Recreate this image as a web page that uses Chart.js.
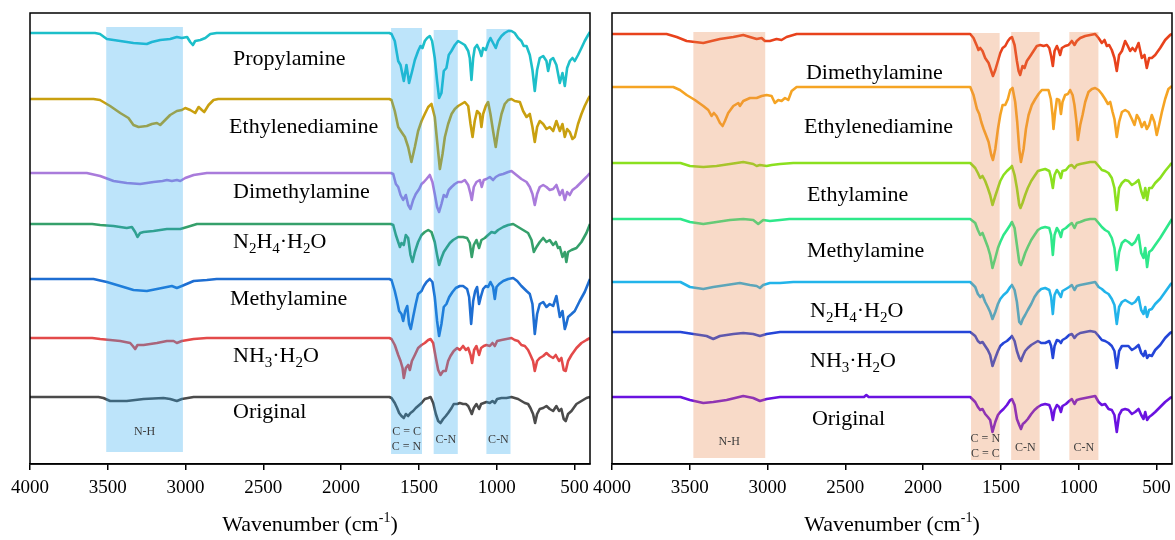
<!DOCTYPE html>
<html>
<head>
<meta charset="utf-8">
<title>FTIR spectra</title>
<script src="https://cdn.jsdelivr.net/npm/chart.js@4.4.1/dist/chart.umd.min.js"></script>
<style>
  body { margin: 0; background: #fff; }
  #wrap { position: relative; width: 1175px; height: 540px; }
  canvas { position: absolute; top: 0; }
  #ftirA { left: 0; }
  #ftirB { left: 582px; }
</style>
</head>
<body>
<div id="wrap">
  <canvas id="ftirA" width="600" height="540"></canvas>
  <canvas id="ftirB" width="593" height="540"></canvas>
</div>
<script>
// 1. SPECTRA: [wavenumber cm-1, change from the trace baseline]
// panel A
const propylamineA = [[4000,0],[3582,0],[3550,-1],[3506,-6],[3420,-8],[3335,-10],[3249,-11],[3217,-9],[3163,-7],[3099,-6],[3056,-4],[3024,-5],[2990,-4],[2970,-9],[2953,-12],[2938,-8],[2905,-7],[2873,-5],[2841,-1],[2800,0],
  [1690,0],[1676,-1],[1655,-8],[1633,-28],[1618,-32],[1597,-48],[1580,-32],[1563,-50],[1543,-38],[1526,-27],[1505,-18],[1490,-13],[1477,-15],[1462,-8],[1447,-5],[1430,-3],[1415,-8],[1398,-25],[1383,-48],[1370,-65],[1355,-60],[1340,-38],[1323,-35],[1308,-22],[1291,-18],[1269,-12],[1248,-8],[1226,-10],[1205,-12],[1183,-18],[1173,-25],[1162,-47],[1151,-25],[1141,-15],[1126,-12],[1108,-18],[1098,-23],[1087,-15],[1070,-17],[1055,-10],[1040,-5],[1023,-10],[1006,-15],[991,-8],[969,-3],[948,0],[926,2],[905,2],[884,0],[862,-5],[841,-8],[826,-13],[808,-13],[787,-22],[770,-37],[755,-58],[740,-37],[723,-25],[701,-23],[680,-28],[669,-38],[654,-27],[637,-25],[616,-32],[594,-50],[577,-40],[562,-53],[547,-35],[530,-28],[513,-25],[498,-28],[477,-22],[455,-15],[434,-8],[412,-2],[400,1]];
const ethylenediamineA = [[4000,0],[3592,0],[3550,-1],[3485,-7],[3420,-14],[3367,-19],[3335,-26],[3302,-28],[3249,-27],[3217,-25],[3184,-24],[3163,-26],[3131,-21],[3099,-16],[3056,-12],[3024,-11],[3002,-9],[2970,-11],[2938,-14],[2916,-8],[2895,-11],[2880,-13],[2852,-6],[2820,-1],[2790,0],
  [1690,0],[1676,-1],[1655,-12],[1633,-28],[1612,-33],[1590,-38],[1569,-48],[1548,-63],[1526,-48],[1505,-32],[1483,-22],[1462,-15],[1440,-8],[1419,-5],[1398,-18],[1383,-42],[1365,-70],[1348,-55],[1333,-38],[1312,-25],[1290,-15],[1269,-10],[1248,-7],[1226,-5],[1205,-3],[1183,-7],[1168,-25],[1155,-38],[1141,-22],[1126,-12],[1108,-15],[1098,-28],[1087,-15],[1070,-7],[1055,-3],[1040,-15],[1023,-32],[1006,-48],[991,-32],[969,-15],[948,-5],[926,-1],[905,0],[884,-2],[851,-3],[830,-12],[808,-18],[787,-15],[770,-28],[755,-43],[740,-28],[723,-22],[701,-25],[680,-30],[659,-28],[637,-32],[616,-22],[594,-32],[577,-25],[562,-38],[547,-30],[530,-33],[513,-40],[498,-38],[477,-25],[455,-15],[434,-7],[412,0],[400,3]];
const dimethylamineA = [[4000,0],[3635,0],[3549,-3],[3463,-8],[3378,-10],[3292,-11],[3206,-9],[3148,-8],[3120,-7],[3088,-8],[3056,-7],[3034,-8],[3002,-5],[2948,-2],[2863,0],
  [1680,0],[1665,-1],[1648,-11],[1633,-14],[1618,-22],[1601,-27],[1584,-22],[1569,-32],[1554,-36],[1537,-27],[1520,-21],[1498,-16],[1483,-11],[1468,-9],[1451,-6],[1430,-2],[1413,-9],[1398,-21],[1383,-34],[1370,-39],[1355,-31],[1340,-22],[1323,-24],[1308,-17],[1290,-14],[1269,-11],[1248,-9],[1226,-9],[1205,-7],[1183,-12],[1168,-21],[1160,-27],[1147,-14],[1130,-9],[1108,-7],[1096,-14],[1083,-7],[1066,-6],[1044,-4],[1023,-7],[1006,-4],[984,-2],[958,-1],[926,1],[905,2],[873,-2],[841,-6],[808,-9],[787,-14],[770,-21],[755,-32],[740,-21],[723,-14],[701,-12],[680,-14],[659,-17],[637,-16],[616,-12],[594,-22],[577,-17],[562,-27],[547,-19],[530,-22],[513,-17],[487,-14],[455,-9],[423,-4],[400,0]];
const hydrazineA = [[4000,0],[3600,0],[3549,-1],[3463,-2],[3378,-4],[3345,-3],[3324,-8],[3309,-13],[3292,-9],[3270,-8],[3206,-7],[3163,-6],[3120,-5],[3077,-5],[3034,-5],[2990,-3],[2927,0],
  [1680,0],[1665,-1],[1648,-11],[1633,-18],[1622,-23],[1612,-19],[1597,-21],[1584,-11],[1569,-14],[1554,-31],[1541,-38],[1526,-28],[1505,-18],[1483,-11],[1462,-8],[1440,-6],[1419,-8],[1398,-18],[1383,-31],[1370,-41],[1355,-34],[1340,-28],[1323,-24],[1301,-19],[1280,-16],[1248,-13],[1216,-13],[1190,-14],[1173,-19],[1160,-33],[1147,-21],[1130,-16],[1113,-24],[1098,-16],[1076,-14],[1055,-11],[1033,-8],[1012,-9],[991,-6],[958,-3],[926,-1],[894,0],[862,-3],[830,-6],[798,-9],[776,-16],[761,-28],[744,-23],[723,-18],[701,-14],[680,-18],[659,-16],[637,-21],[620,-18],[605,-24],[594,-23],[577,-33],[562,-28],[552,-38],[541,-28],[519,-26],[487,-24],[455,-18],[423,-9],[400,0]];
const methylamineA = [[4000,0],[3592,0],[3506,-3],[3420,-7],[3335,-11],[3249,-12],[3184,-10],[3120,-8],[3088,-7],[3056,-9],[3024,-7],[2948,-2],[2863,-1],[2800,0],
  [1690,0],[1676,-1],[1655,-12],[1640,-22],[1627,-32],[1612,-35],[1601,-42],[1588,-32],[1575,-27],[1563,-45],[1552,-50],[1537,-38],[1520,-25],[1505,-15],[1483,-12],[1468,-7],[1451,-3],[1430,0],[1413,-3],[1398,-18],[1383,-42],[1370,-57],[1355,-45],[1340,-28],[1323,-25],[1305,-18],[1284,-13],[1263,-9],[1237,-7],[1216,-7],[1190,-10],[1177,-18],[1164,-45],[1151,-22],[1138,-12],[1126,-8],[1113,-25],[1102,-18],[1087,-10],[1070,-7],[1055,-8],[1040,-3],[1023,-8],[1012,-20],[1001,-8],[984,-5],[958,-2],[926,0],[894,1],[868,-2],[841,-7],[808,-12],[787,-15],[770,-25],[755,-55],[740,-35],[723,-25],[701,-23],[680,-28],[659,-25],[637,-27],[616,-17],[594,-38],[577,-32],[562,-50],[552,-45],[541,-38],[519,-35],[498,-32],[466,-22],[434,-13],[400,0]];
const ammoniaA = [[4000,0],[3600,0],[3549,-1],[3420,-3],[3356,-5],[3339,-8],[3324,-11],[3309,-7],[3270,-7],[3184,-5],[3120,-3],[3077,-3],[3056,-5],[3024,-3],[2948,-1],[2863,0],
  [1690,0],[1676,-1],[1655,-7],[1633,-17],[1618,-23],[1605,-30],[1597,-40],[1584,-30],[1569,-27],[1558,-32],[1545,-23],[1526,-17],[1505,-10],[1483,-7],[1462,-5],[1440,-2],[1425,-1],[1408,-5],[1391,-20],[1376,-32],[1361,-37],[1344,-33],[1327,-33],[1312,-23],[1297,-18],[1276,-13],[1254,-10],[1237,-12],[1216,-8],[1198,-12],[1183,-10],[1168,-17],[1158,-25],[1145,-12],[1130,-8],[1113,-17],[1100,-10],[1083,-8],[1066,-7],[1044,-8],[1027,-5],[1012,-8],[997,-3],[969,-2],[937,-1],[905,0],[884,-2],[862,-3],[841,-7],[819,-8],[798,-12],[783,-17],[766,-23],[755,-33],[740,-23],[723,-20],[701,-18],[680,-15],[659,-18],[637,-20],[620,-17],[599,-23],[584,-20],[569,-32],[556,-33],[541,-23],[519,-17],[487,-10],[455,-5],[423,-2],[400,0]];
const originalA = [[4000,0],[3560,0],[3528,-1],[3485,-4],[3378,-4],[3270,-2],[3142,-1],[3099,-2],[3056,-4],[3024,-2],[2948,0],
  [1690,0],[1676,-1],[1655,-6],[1640,-11],[1627,-16],[1612,-19],[1597,-21],[1584,-17],[1569,-19],[1554,-16],[1537,-14],[1520,-11],[1505,-9],[1483,-6],[1462,-2],[1440,-1],[1425,0],[1408,-6],[1391,-17],[1376,-24],[1361,-26],[1344,-22],[1327,-19],[1312,-16],[1290,-11],[1276,-7],[1254,-7],[1237,-6],[1216,-7],[1198,-7],[1183,-9],[1168,-14],[1160,-17],[1147,-11],[1130,-7],[1113,-12],[1100,-7],[1083,-6],[1066,-5],[1044,-6],[1027,-4],[1012,-6],[997,-2],[969,-1],[937,-1],[905,0],[884,-1],[862,-2],[841,-4],[819,-6],[798,-7],[783,-11],[766,-17],[753,-26],[740,-17],[723,-12],[701,-11],[680,-9],[659,-12],[637,-14],[616,-9],[599,-14],[584,-12],[569,-22],[556,-24],[541,-17],[519,-14],[487,-7],[455,-4],[423,-1],[400,0]];

// panel B
const dimethylamineB = [[4000,0],[3649,0],[3584,-3],[3520,-7],[3467,-8],[3413,-9],[3360,-7],[3306,-5],[3220,-3],[3156,-1],[3114,-3],[3070,-5],[3038,-4],[3017,-7],[2985,-7],[2942,-5],[2910,-6],[2878,-3],[2813,0],
  [1697,0],[1676,-4],[1654,-12],[1644,-16],[1633,-14],[1618,-17],[1601,-24],[1579,-29],[1562,-37],[1551,-42],[1536,-36],[1519,-27],[1504,-19],[1489,-14],[1472,-12],[1455,-7],[1440,-4],[1429,-3],[1412,-11],[1397,-27],[1386,-37],[1376,-41],[1361,-32],[1348,-34],[1333,-27],[1311,-22],[1290,-17],[1269,-12],[1247,-11],[1226,-12],[1204,-11],[1189,-14],[1177,-22],[1166,-32],[1155,-17],[1140,-12],[1129,-16],[1119,-21],[1108,-14],[1087,-12],[1065,-11],[1044,-7],[1027,-11],[1012,-7],[990,-4],[958,-2],[926,-1],[894,0],[872,-4],[851,-9],[834,-6],[819,-12],[804,-11],[787,-16],[770,-24],[755,-37],[740,-21],[722,-17],[701,-7],[684,-12],[669,-17],[654,-14],[637,-17],[615,-9],[594,-24],[577,-21],[562,-34],[547,-24],[530,-24],[508,-21],[476,-14],[444,-6],[412,-1],[400,0]];
const ethylenediamineB = [[4000,0],[3606,0],[3563,-3],[3520,-8],[3467,-13],[3413,-19],[3381,-23],[3360,-29],[3345,-26],[3328,-29],[3306,-36],[3289,-39],[3274,-34],[3253,-26],[3220,-19],[3188,-16],[3178,-19],[3156,-14],[3113,-11],[3070,-11],[3038,-9],[3006,-8],[2974,-9],[2953,-16],[2931,-13],[2910,-14],[2888,-11],[2867,-13],[2845,-4],[2813,0],
  [1697,0],[1676,-8],[1654,-22],[1639,-27],[1626,-35],[1611,-42],[1596,-48],[1579,-55],[1562,-68],[1551,-73],[1536,-62],[1519,-42],[1504,-28],[1489,-18],[1472,-18],[1455,-12],[1440,-3],[1425,-1],[1408,-15],[1395,-35],[1382,-62],[1371,-75],[1354,-62],[1339,-42],[1322,-28],[1301,-18],[1279,-12],[1258,-7],[1237,-3],[1215,-3],[1194,-3],[1179,-12],[1168,-28],[1162,-42],[1151,-25],[1140,-12],[1125,-13],[1114,-27],[1104,-15],[1087,-8],[1069,-7],[1055,-3],[1039,-8],[1027,-18],[1014,-35],[1005,-53],[990,-38],[975,-28],[958,-15],[937,-5],[915,-2],[894,-1],[872,-3],[851,-7],[830,-12],[812,-17],[797,-15],[782,-25],[770,-32],[755,-50],[740,-35],[722,-25],[701,-23],[680,-25],[658,-32],[641,-38],[626,-28],[611,-32],[594,-40],[577,-35],[562,-42],[547,-38],[530,-28],[513,-35],[498,-48],[483,-38],[465,-25],[444,-12],[423,-2],[400,1]];
const ethylamineB = [[4000,0],[3560,0],[3499,-3],[3413,-4],[3328,-3],[3242,-1],[3156,1],[3092,-1],[3070,-3],[3049,-2],[3006,-3],[2974,-2],[2920,-1],[2835,0],
  [1697,0],[1665,-5],[1648,-10],[1633,-15],[1618,-13],[1601,-18],[1584,-25],[1569,-32],[1554,-42],[1536,-33],[1519,-25],[1504,-18],[1483,-12],[1461,-8],[1440,-5],[1429,-3],[1412,-12],[1397,-25],[1382,-42],[1374,-45],[1361,-40],[1344,-32],[1327,-25],[1305,-18],[1284,-13],[1262,-8],[1241,-7],[1215,-6],[1189,-8],[1177,-15],[1166,-25],[1155,-12],[1140,-7],[1125,-10],[1114,-15],[1104,-8],[1082,-7],[1061,-3],[1044,-2],[1027,-5],[1012,-2],[990,-1],[958,0],[926,1],[894,1],[872,-3],[851,-7],[830,-8],[808,-10],[787,-15],[770,-25],[755,-47],[740,-25],[722,-20],[701,-17],[680,-18],[658,-22],[637,-20],[615,-17],[598,-28],[583,-35],[572,-25],[560,-37],[547,-25],[530,-25],[508,-20],[476,-15],[444,-8],[412,-2],[400,0]];
const methylamineB = [[4000,0],[3560,0],[3499,-3],[3413,-5],[3328,-3],[3242,-1],[3156,0],[3092,-1],[3060,-5],[3028,-1],[2985,-2],[2920,-1],[2860,0],
  [1697,0],[1665,-4],[1648,-11],[1633,-16],[1618,-14],[1601,-21],[1584,-28],[1569,-36],[1554,-49],[1536,-39],[1519,-29],[1504,-23],[1483,-16],[1461,-11],[1440,-6],[1429,-3],[1412,-9],[1397,-26],[1382,-43],[1371,-46],[1359,-41],[1344,-34],[1327,-28],[1305,-21],[1284,-16],[1262,-11],[1241,-9],[1215,-8],[1189,-9],[1177,-16],[1166,-36],[1155,-16],[1140,-9],[1125,-13],[1114,-18],[1104,-11],[1082,-9],[1061,-6],[1044,-4],[1027,-9],[1012,-4],[990,-3],[958,-1],[926,0],[894,0],[872,-4],[851,-8],[830,-11],[808,-13],[787,-19],[770,-29],[755,-51],[740,-33],[722,-24],[701,-21],[680,-23],[658,-26],[637,-23],[615,-16],[598,-34],[583,-39],[572,-29],[560,-48],[547,-33],[530,-31],[508,-26],[476,-19],[444,-11],[412,-3],[400,0]];
const hydrazineB = [[4000,0],[3560,0],[3499,-5],[3413,-7],[3349,-5],[3263,-3],[3178,-1],[3113,-3],[3070,-4],[3049,-6],[3028,-3],[2985,-1],[2920,-1],[2835,0],
  [1697,0],[1665,-5],[1648,-12],[1633,-15],[1618,-13],[1601,-20],[1584,-25],[1569,-30],[1554,-37],[1536,-30],[1519,-22],[1504,-17],[1483,-13],[1461,-10],[1440,-5],[1429,-3],[1412,-8],[1397,-20],[1382,-40],[1371,-42],[1359,-37],[1344,-33],[1327,-28],[1305,-22],[1284,-15],[1262,-10],[1241,-7],[1215,-6],[1189,-8],[1177,-15],[1166,-32],[1155,-13],[1140,-8],[1125,-12],[1114,-15],[1104,-9],[1082,-7],[1061,-5],[1044,-3],[1027,-8],[1012,-4],[990,-3],[958,-2],[926,-1],[894,0],[872,-5],[851,-7],[830,-10],[808,-12],[787,-17],[770,-23],[755,-42],[740,-25],[722,-20],[701,-18],[680,-20],[658,-22],[637,-20],[615,-15],[598,-28],[583,-32],[572,-25],[560,-35],[547,-28],[530,-27],[508,-22],[476,-17],[444,-10],[412,-3],[400,-1]];
const ammoniaB = [[4000,0],[3560,0],[3477,-2],[3392,-4],[3349,-7],[3306,-4],[3220,-2],[3156,-1],[3092,-2],[3049,-4],[3006,-2],[2920,0],
  [1697,0],[1665,-4],[1648,-9],[1633,-11],[1618,-10],[1601,-14],[1584,-18],[1569,-23],[1554,-34],[1536,-26],[1519,-19],[1504,-14],[1483,-11],[1461,-9],[1440,-6],[1429,-4],[1412,-9],[1397,-19],[1382,-26],[1371,-29],[1359,-24],[1344,-19],[1327,-16],[1305,-13],[1284,-11],[1262,-9],[1241,-11],[1215,-11],[1189,-9],[1177,-14],[1166,-26],[1155,-14],[1140,-8],[1125,-9],[1114,-11],[1104,-8],[1082,-6],[1061,-3],[1044,-2],[1027,-6],[1012,-3],[990,-1],[958,0],[926,1],[894,0],[872,-4],[851,-8],[830,-9],[808,-11],[787,-14],[770,-19],[755,-36],[740,-19],[722,-14],[701,-14],[680,-14],[658,-18],[637,-16],[615,-13],[598,-21],[583,-24],[572,-19],[560,-26],[547,-23],[530,-24],[508,-18],[476,-13],[444,-6],[412,-1],[400,0]];
const originalB = [[4000,0],[3560,0],[3499,-3],[3413,-6],[3349,-5],[3263,-3],[3156,1],[3092,-1],[3049,-4],[3006,-2],[2920,0],[2380,0],[2365,2],[2350,0],
  [1697,0],[1665,-5],[1648,-10],[1633,-13],[1618,-12],[1601,-17],[1584,-20],[1569,-23],[1554,-35],[1536,-25],[1519,-18],[1504,-15],[1483,-12],[1461,-8],[1440,-3],[1429,-2],[1412,-8],[1397,-22],[1382,-28],[1371,-32],[1359,-27],[1344,-25],[1327,-22],[1305,-17],[1284,-13],[1262,-10],[1241,-8],[1215,-7],[1189,-8],[1177,-13],[1166,-23],[1155,-13],[1140,-8],[1125,-10],[1114,-15],[1104,-9],[1082,-7],[1061,-4],[1044,-2],[1027,-7],[1012,-3],[990,-2],[958,-1],[926,0],[894,1],[872,-5],[851,-8],[830,-7],[808,-12],[787,-13],[770,-18],[755,-35],[740,-18],[722,-13],[701,-12],[680,-13],[658,-17],[637,-15],[615,-12],[598,-18],[583,-22],[572,-15],[560,-23],[547,-20],[530,-18],[508,-15],[476,-10],[444,-5],[412,-1],[400,0]];

// 2. SERIES SETUP
const wavenumberTicks = [4000, 3500, 3000, 2500, 2000, 1500, 1000, 500];

const namesA = ['Propylamine', 'Ethylenediamine', 'Dimethylamine', 'N2H4·H2O', 'Methylamine', 'NH3·H2O', 'Original'];
const spectraA = [propylamineA, ethylenediamineA, dimethylamineA, hydrazineA, methylamineA, ammoniaA, originalA];
const offsetsA = [431, 365, 291, 240, 185, 126, 67];

const namesB = ['Dimethylamine', 'Ethylenediamine', 'Ethylamine', 'Methylamine', 'N2H4·H2O', 'NH3·H2O', 'Original'];
const spectraB = [dimethylamineB, ethylenediamineB, ethylamineB, methylamineB, hydrazineB, ammoniaB, originalB];
const offsetsB = [430, 377, 301, 245, 182, 132, 67];

const colorsA = ['#1dbfc9', '#c9a00f', '#a97bdb', '#35a06b', '#1e6ed2', '#e34a4a', '#4b4b4b'];
const colorsB = ['#e8421c', '#f5a424', '#8be01f', '#2ee88a', '#22b4ea', '#2445d8', '#6a12e0'];

// where the sample names sit (wavenumber of left edge, baseline value)
const labelXA = [2695, 2720, 2695, 2695, 2715, 2695, 2695];
const labelYA = [399, 331, 266, 216, 159, 102, 46];
const labelXB = [2753, 2766, 2747, 2747, 2727, 2727, 2715];
const labelYB = [385, 331, 263, 207, 147, 97, 39];

// highlighted absorption regions
const bandsA = [
  { from: 3510, to: 3017, top: 437, bottom: 12, text: ['N-H'], textY: [32] },
  { from: 1679, to: 1480, top: 436, bottom: 10, text: ['C = C', 'C = N'], textY: [32, 17] },
  { from: 1405, to: 1250, top: 434, bottom: 10, text: ['C-N'], textY: [24] },
  { from: 1066, to: 911, top: 435, bottom: 10, text: ['C-N'], textY: [24] }
];
const bandsB = [
  { from: 3477, to: 3015, top: 432, bottom: 6, text: ['N-H'], textY: [22] },
  { from: 1692, to: 1508, top: 431, bottom: 4, text: ['C = N', 'C = C'], textY: [25, 10] },
  { from: 1434, to: 1251, top: 432, bottom: 4, text: ['C-N'], textY: [16] },
  { from: 1060, to: 873, top: 432, bottom: 4, text: ['C-N'], textY: [16] }
];

const SERIF = '"Liberation Serif", "Times New Roman", serif';

// 3. TEXT HELPERS
// digits in the sample names are chemical subscripts
function drawFormula(ctx, text, x, y, size) {
  let cx = x;
  for (const ch of text) {
    const sub = ch >= '0' && ch <= '9';
    ctx.font = (sub ? Math.round(size * 0.68) : size) + 'px ' + SERIF;
    ctx.fillText(ch, cx, sub ? y + size * 0.24 : y);
    cx += ctx.measureText(ch).width;
  }
}

function drawAxisTitle(ctx, cx, y) {
  const big = '22px ' + SERIF, small = '14px ' + SERIF;
  const parts = [['Wavenumber (cm', big, 0], ['-1', small, -9], [')', big, 0]];
  let w = 0;
  parts.forEach(p => { ctx.font = p[1]; w += ctx.measureText(p[0]).width; });
  let x = cx - w / 2;
  parts.forEach(p => {
    ctx.font = p[1];
    ctx.fillText(p[0], x, y + p[2]);
    x += ctx.measureText(p[0]).width;
  });
}

// 4. DECORATION PLUGIN (bands, names, frame, axis title)
const panelDecor = {
  id: 'panelDecor',
  afterDatasetsDraw(chart, args, opts) {
    const ctx = chart.ctx;
    const a = chart.chartArea;
    const xs = chart.scales.x, ys = chart.scales.y;
    ctx.save();

    opts.bands.forEach(b => {
      const x1 = xs.getPixelForValue(b.from), x2 = xs.getPixelForValue(b.to);
      const y1 = ys.getPixelForValue(b.top), y2 = ys.getPixelForValue(b.bottom);
      ctx.fillStyle = opts.bandColor;
      ctx.fillRect(x1, y1, x2 - x1, y2 - y1);
      ctx.fillStyle = '#3c3c3c';
      ctx.font = '12px ' + SERIF;
      ctx.textAlign = 'center';
      ctx.textBaseline = 'middle';
      b.text.forEach((t, k) => ctx.fillText(t, (x1 + x2) / 2, ys.getPixelForValue(b.textY[k])));
    });

    ctx.fillStyle = '#000';
    ctx.textAlign = 'left';
    ctx.textBaseline = 'alphabetic';
    chart.data.datasets.forEach((ds, i) => {
      drawFormula(ctx, ds.label, xs.getPixelForValue(opts.labelX[i]), ys.getPixelForValue(opts.labelY[i]), 22);
    });

    ctx.strokeStyle = '#000';
    ctx.lineWidth = 1.5;
    ctx.strokeRect(a.left, a.top, a.right - a.left, a.bottom - a.top);

    drawAxisTitle(ctx, (a.left + a.right) / 2, 531);
    ctx.restore();
  }
};

// 5. BUILD ONE PANEL
function buildPanel(canvasId, names, spectra, offsets, colors, labelX, labelY, bands, bandColor, padRight) {
  const datasets = spectra.map((pts, i) => ({
    label: names[i],
    data: pts.map(p => ({ x: p[0], y: offsets[i] + p[1] })),
    borderColor: colors[i],
    borderWidth: 2.6,
    borderJoinStyle: 'round',
    pointRadius: 0,
    tension: 0,
    fill: false
  }));

  return new Chart(document.getElementById(canvasId), {
    type: 'line',
    data: { datasets: datasets },
    plugins: [panelDecor],
    options: {
      responsive: false,
      animation: false,
      devicePixelRatio: 1,
      layout: { autoPadding: false, padding: { left: 30, right: padRight, top: 13, bottom: 0 } },
      plugins: {
        legend: { display: false },
        tooltip: { enabled: false },
        panelDecor: { bands: bands, bandColor: bandColor, labelX: labelX, labelY: labelY }
      },
      scales: {
        x: {
          type: 'linear',
          reverse: true,
          min: 400,
          max: 4000,
          afterBuildTicks: s => { s.ticks = wavenumberTicks.map(v => ({ value: v })); },
          afterFit: s => { s.height = 76; s.paddingLeft = 0; s.paddingRight = 0; },
          border: { display: true, color: '#000', width: 1.5 },
          grid: { drawOnChartArea: false, drawTicks: true, tickLength: 6, color: '#000', lineWidth: 1.5 },
          ticks: {
            color: '#000',
            padding: 7,
            maxRotation: 0,
            autoSkip: false,
            font: { family: SERIF, size: 19 },
            callback: v => String(v)
          }
        },
        y: { display: false, min: 0, max: 451 }
      }
    }
  });
}

buildPanel('ftirA', namesA, spectraA, offsetsA, colorsA, labelXA, labelYA, bandsA, 'rgba(38,165,238,0.3)', 10);
buildPanel('ftirB', namesB, spectraB, offsetsB, colorsB, labelXB, labelYB, bandsB, 'rgba(232,132,72,0.3)', 3);
</script>
</body>
</html>
